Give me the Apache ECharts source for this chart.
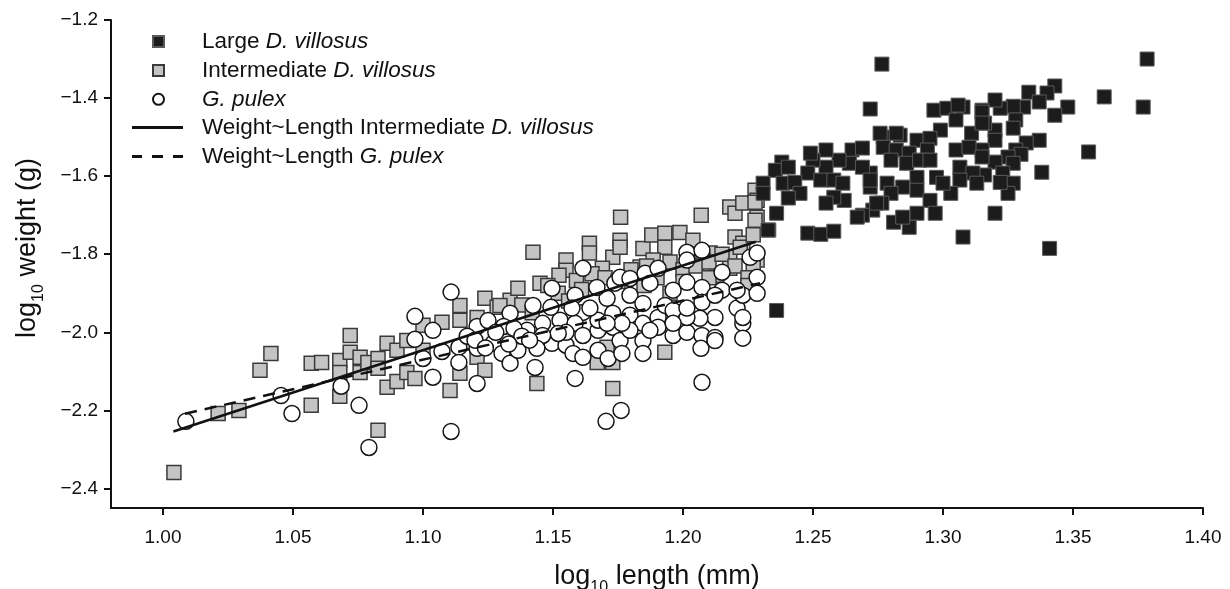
<!DOCTYPE html>
<html>
<head>
<meta charset="utf-8">
<script src="https://cdn.jsdelivr.net/npm/echarts@6/dist/echarts.min.js"></script>
<style>html,body{margin:0;padding:0;background:#fff}#c{width:1230px;height:589px}</style>
</head>
<body>
<div id="c"></div>
<script>
const xTicks = [1.00, 1.05, 1.10, 1.15, 1.20, 1.25, 1.30, 1.35, 1.40];
const yTicks = [-2.4, -2.2, -2.0, -1.8, -1.6, -1.4, -1.2];

const largeDV = [
[1.3785,-1.300],[1.362,-1.397],[1.377,-1.423],[1.356,-1.538],[1.338,-1.590],[1.320,-1.695],[1.341,-1.785],
[1.343,-1.369],[1.333,-1.385],[1.340,-1.387],[1.337,-1.410],[1.348,-1.423],[1.343,-1.444],
[1.331,-1.423],[1.327,-1.421],[1.322,-1.426],[1.320,-1.405],[1.328,-1.456],[1.327,-1.477],
[1.337,-1.508],[1.332,-1.515],[1.328,-1.533],[1.330,-1.544],[1.325,-1.551],[1.327,-1.567],[1.320,-1.564],[1.323,-1.592],[1.327,-1.618],[1.325,-1.644],[1.316,-1.597],[1.322,-1.616],
[1.320,-1.482],[1.320,-1.508],[1.315,-1.533],[1.315,-1.431],[1.316,-1.464],
[1.2765,-1.313],[1.272,-1.428],
[1.2965,-1.431],[1.3015,-1.426],[1.3077,-1.423],[1.315,-1.436],[1.299,-1.482],[1.305,-1.456],[1.311,-1.490],[1.315,-1.464],
[1.277,-1.500],[1.2835,-1.495],[1.290,-1.508],[1.295,-1.503],[1.277,-1.526],[1.282,-1.533],[1.287,-1.541],[1.294,-1.533],[1.280,-1.559],[1.286,-1.567],[1.291,-1.559],[1.295,-1.559],[1.305,-1.533],[1.310,-1.526],[1.315,-1.551],[1.3065,-1.577],[1.3115,-1.592],[1.3065,-1.610],[1.313,-1.618],[1.303,-1.644],[1.2975,-1.603],[1.300,-1.618],
[1.290,-1.603],[1.2845,-1.628],[1.290,-1.636],[1.295,-1.662],[1.2785,-1.618],[1.280,-1.644],[1.2765,-1.669],[1.272,-1.592],[1.272,-1.628],[1.290,-1.695],[1.297,-1.695],[1.281,-1.718],[1.287,-1.731],[1.2845,-1.705],[1.273,-1.687],[1.269,-1.700],[1.267,-1.705],[1.2745,-1.669],[1.3077,-1.756],
[1.265,-1.533],[1.269,-1.528],[1.264,-1.567],[1.269,-1.577],[1.272,-1.610],[1.260,-1.559],[1.255,-1.533],[1.255,-1.577],[1.250,-1.559],[1.249,-1.541],[1.248,-1.592],[1.253,-1.610],[1.258,-1.610],[1.2615,-1.618],[1.262,-1.662],[1.258,-1.654],[1.255,-1.669],
[1.238,-1.564],[1.2355,-1.585],[1.2405,-1.577],[1.2385,-1.618],[1.243,-1.616],[1.245,-1.644],[1.2405,-1.656],[1.2308,-1.618],[1.2308,-1.644],[1.236,-1.695],[1.233,-1.738],
[1.248,-1.746],[1.253,-1.749],[1.258,-1.741],[1.236,-1.944],[1.2327,-1.738],[1.2758,-1.490],[1.282,-1.490],[1.3058,-1.418]
];

const interDV = [
[1.0042,-2.359],[1.0212,-2.208],[1.0292,-2.200],[1.0373,-2.097],[1.0415,-2.054],[1.057,-2.079],[1.057,-2.187],[1.061,-2.077],[1.068,-2.072],[1.068,-2.103],[1.068,-2.164],[1.072,-2.008],[1.072,-2.051],[1.0758,-2.064],[1.0758,-2.103],[1.0788,-2.077],[1.0827,-2.067],[1.0827,-2.092],[1.0827,-2.251],[1.0862,-2.028],[1.0862,-2.141],[1.09,-2.046],[1.09,-2.126],[1.0938,-2.021],[1.0938,-2.103],[1.0969,-2.118],[1.10,-1.982],[1.10,-2.046],[1.1073,-1.974],[1.1104,-2.149],[1.1142,-1.931],[1.1142,-1.969],[1.1142,-2.105],[1.1208,-1.962],[1.1208,-2.064],[1.1238,-1.913],[1.1238,-2.097],[1.1285,-1.936],[1.1335,-1.918],[1.1365,-1.887],
[1.1296,-1.931],[1.1423,-1.795],[1.145,-1.874],
[1.176,-1.705],[1.207,-1.700],[1.164,-1.772],[1.164,-1.797],[1.155,-1.815],[1.155,-1.841],[1.1523,-1.854],[1.173,-1.808],[1.1758,-1.764],[1.1758,-1.782],[1.1846,-1.785],[1.188,-1.751],[1.193,-1.746],[1.193,-1.782],[1.1988,-1.744],[1.2038,-1.764],[1.2104,-1.797],[1.218,-1.808],[1.22,-1.756],[1.223,-1.772],[1.218,-1.679],[1.22,-1.695],[1.223,-1.669],[1.2277,-1.636],[1.2285,-1.705],[1.2285,-1.662],[1.2285,-1.815],[1.193,-2.051],[1.167,-2.077],[1.173,-2.077],[1.1708,-2.038],[1.213,-1.854],[1.218,-1.836],[1.159,-1.867],[1.169,-1.836],[1.1835,-1.833],[1.1885,-1.815],[1.2015,-1.815],[1.2077,-1.815],
[1.1438,-2.131],[1.173,-2.144],[1.2277,-1.713],[1.2277,-1.667],[1.222,-1.782],[1.227,-1.833],
[1.138,-1.93],[1.142,-1.95],[1.148,-1.88],[1.152,-1.90],[1.156,-1.92],[1.161,-1.89],[1.165,-1.85],[1.170,-1.86],[1.175,-1.87],[1.180,-1.84],[1.186,-1.83],[1.190,-1.86],[1.195,-1.82],[1.200,-1.84],[1.205,-1.83],[1.210,-1.82],[1.215,-1.80],[1.220,-1.83],[1.200,-1.87],[1.185,-1.88],[1.195,-1.90],[1.210,-1.86],[1.225,-1.86],[1.225,-1.88],[1.227,-1.75]
];

const gPulex = [
[1.0088,-2.228],[1.0454,-2.162],[1.0496,-2.208],[1.0685,-2.138],[1.0754,-2.187],[1.0792,-2.295],[1.0969,-1.959],[1.0969,-2.018],[1.10,-2.067],[1.1038,-1.995],[1.1038,-2.115],[1.1073,-2.049],[1.1108,-1.897],[1.1108,-2.254],[1.1138,-2.038],[1.1138,-2.077],[1.1208,-1.985],[1.1208,-2.041],[1.1208,-2.131],[1.127,-2.028],[1.1304,-2.054],[1.1335,-1.951],[1.1335,-2.079],[1.1365,-2.046],
[1.14,-1.995],[1.1423,-1.931],[1.1431,-2.09],
[1.1615,-1.836],[1.1496,-1.887],[1.146,-1.977],[1.1496,-2.028],[1.155,-2.033],[1.1527,-1.969],[1.1585,-1.905],[1.1615,-1.949],[1.1585,-1.977],[1.1615,-2.008],[1.1577,-2.054],[1.1673,-2.046],[1.1673,-1.995],[1.1673,-1.969],[1.1708,-1.913],[1.1669,-1.885],[1.1738,-1.874],[1.1758,-1.859],[1.173,-1.951],[1.173,-1.987],[1.1758,-2.021],[1.1796,-1.862],[1.1796,-1.905],[1.1796,-1.956],[1.1846,-2.021],[1.1846,-1.977],[1.1854,-1.849],[1.1873,-1.874],[1.1904,-1.836],[1.1904,-1.962],[1.1904,-1.987],[1.1931,-1.931],[1.1962,-2.008],[1.1962,-1.892],[1.2015,-1.872],[1.2015,-1.795],[1.2015,-1.815],[1.2015,-2.0],[1.2073,-1.790],[1.2073,-1.885],[1.2073,-1.923],[1.2073,-2.008],[1.2123,-1.962],[1.2123,-2.013],[1.215,-1.846],[1.215,-1.892],[1.2208,-1.938],[1.223,-1.905],[1.223,-1.977],[1.223,-2.015],[1.2258,-1.808],[1.2285,-1.859],[1.2285,-1.900],[1.2285,-1.797],[1.2208,-1.892],[1.2123,-1.905],[1.2065,-1.964],[1.2015,-1.962],[1.1962,-1.944],[1.1846,-1.926],[1.1873,-1.995],[1.1796,-1.995],[1.1765,-1.977],[1.1708,-1.977],[1.155,-2.0],[1.152,-2.003],[1.146,-2.008],[1.1438,-2.041],[1.1615,-2.064],[1.1712,-2.067],[1.1765,-2.054],[1.1846,-2.054],[1.1962,-1.977],[1.2015,-1.938],[1.2069,-2.041],[1.2123,-2.021],[1.223,-1.962],[1.1573,-1.938],[1.1642,-1.938],[1.1492,-1.936],
[1.2073,-2.128],[1.1585,-2.118],[1.1704,-2.228],[1.1762,-2.2],
[1.125,-1.97],[1.131,-1.985],[1.135,-1.99],[1.128,-2.0],[1.138,-2.01],[1.141,-2.02],[1.133,-2.03],[1.117,-2.01],[1.12,-2.02],[1.124,-2.04]
];

const fitInterX = [1.004, 1.228];
const fitInterY = [-2.254, -1.768];
const fitPulexX = [1.0085, 1.2296];
const fitPulexY = [-2.2085, -1.874];

const NAMES = {
  large: 'Large D. villosus',
  inter: 'Intermediate D. villosus',
  pulex: 'G. pulex',
  fitI: 'Weight~Length Intermediate D. villosus',
  fitP: 'Weight~Length G. pulex'
};

const FONT = '"Liberation Sans", Arial, Helvetica, sans-serif';
const INK = '#111';

function zip(xs, ys) { return xs.map((x, i) => [x, ys[i]]); }
function minus(s) { return String(s).replace('-', '\u2212'); }

function legendRich(pad) {
  const base = { fontSize: 22.5, fontFamily: FONT, color: INK, lineHeight: 24 };
  return {
    f: Object.assign({}, base, { padding: [0, 0, 0, pad] }),
    fi: Object.assign({}, base, { fontStyle: 'italic', padding: [0, 0, 0, pad] }),
    i: Object.assign({}, base, { fontStyle: 'italic' })
  };
}
const legendFmt = {};
legendFmt[NAMES.large] = '{f|Large }{i|D. villosus}';
legendFmt[NAMES.inter] = '{f|Intermediate }{i|D. villosus}';
legendFmt[NAMES.pulex] = '{fi|G. pulex}';
legendFmt[NAMES.fitI] = '{f|Weight~Length Intermediate }{i|D. villosus}';
legendFmt[NAMES.fitP] = '{f|Weight~Length }{i|G. pulex}';

const nameRich = {
  a: { fontSize: 27, fontFamily: FONT, color: INK, lineHeight: 31, verticalAlign: 'top' },
  s: { fontSize: 16, fontFamily: FONT, color: INK, lineHeight: 16, verticalAlign: 'top', padding: [17, 0, 0, 0] }
};

const chart = echarts.init(document.getElementById('c'), null, { renderer: 'canvas' });
chart.setOption({
  animation: false,
  backgroundColor: '#fff',
  grid: { left: 111, right: 27, top: 20, bottom: 81, containLabel: false, outerBoundsMode: 'none' },
  xAxis: {
    type: 'value', min: 0.98, max: 1.40,
    name: '{a|log}{s|10}{a| length (mm)}',
    nameLocation: 'middle', nameGap: 55,
    nameTextStyle: { rich: nameRich },
    axisLine: { show: true, onZero: false, lineStyle: { color: INK, width: 2 } },
    axisTick: { show: true, customValues: xTicks, length: 7, lineStyle: { color: INK, width: 2 } },
    axisLabel: { customValues: xTicks, formatter: v => Number(v).toFixed(2), fontSize: 19, fontFamily: FONT, color: INK, margin: 20 },
    splitLine: { show: false }
  },
  yAxis: {
    type: 'value', min: -2.45, max: -1.2,
    name: '{a|log}{s|10}{a| weight (g)}',
    nameLocation: 'middle', nameGap: 66,
    nameTextStyle: { rich: nameRich, padding: [0, 0, 0, 32] },
    axisLine: { show: true, onZero: false, lineStyle: { color: INK, width: 2 } },
    axisTick: { show: true, customValues: yTicks, length: 7, lineStyle: { color: INK, width: 2 } },
    axisLabel: { customValues: yTicks, formatter: v => minus(Number(v).toFixed(1)), fontSize: 19, fontFamily: FONT, color: INK, margin: 13 },
    splitLine: { show: false }
  },
  legend: [
    {
      orient: 'vertical', left: 152, top: 30, padding: 0, itemGap: 5.9,
      itemWidth: 11, itemHeight: 11, selectedMode: false,
      data: [
        { name: NAMES.large, icon: 'rect' },
        { name: NAMES.inter, icon: 'rect' },
        { name: NAMES.pulex, icon: 'circle' }
      ],
      formatter: n => legendFmt[n],
      textStyle: { rich: legendRich(33) }
    },
    {
      orient: 'vertical', left: 132, top: 116, padding: 0, itemGap: 5.9,
      itemWidth: 51, itemHeight: 3, selectedMode: false,
      data: [
        { name: NAMES.fitI, icon: 'path://M0,0H51V3H0Z' },
        { name: NAMES.fitP, icon: 'path://M0,0H10V3H0Z M20,0H31V3H20Z M41,0H51V3H41Z' }
      ],
      formatter: n => legendFmt[n],
      textStyle: { rich: legendRich(14) }
    }
  ],
  series: [
    {
      name: NAMES.inter, type: 'scatter', data: interDV, symbol: 'rect', symbolSize: 14,
      itemStyle: { color: '#c4c4c4', borderColor: '#3a3a3a', borderWidth: 1.5, opacity: 1 }, z: 2
    },
    {
      name: NAMES.pulex, type: 'scatter', data: gPulex, symbol: 'circle', symbolSize: 16,
      itemStyle: { color: '#ffffff', borderColor: '#151515', borderWidth: 1.5, opacity: 1 }, z: 3
    },
    {
      name: NAMES.large, type: 'scatter', data: largeDV, symbol: 'rect', symbolSize: 14,
      itemStyle: { color: '#1c1c1c', borderColor: '#5a5a5a', borderWidth: 1, opacity: 1 }, z: 4
    },
    {
      name: NAMES.fitI, type: 'line', data: zip(fitInterX, fitInterY), symbol: 'none', showSymbol: false,
      itemStyle: { color: INK }, lineStyle: { color: INK, width: 2.5 }, z: 5
    },
    {
      name: NAMES.fitP, type: 'line', data: zip(fitPulexX, fitPulexY), symbol: 'none', showSymbol: false,
      itemStyle: { color: INK }, lineStyle: { color: INK, width: 2.5, type: [12, 8] }, z: 5
    }
  ]
});
</script>
</body>
</html>
